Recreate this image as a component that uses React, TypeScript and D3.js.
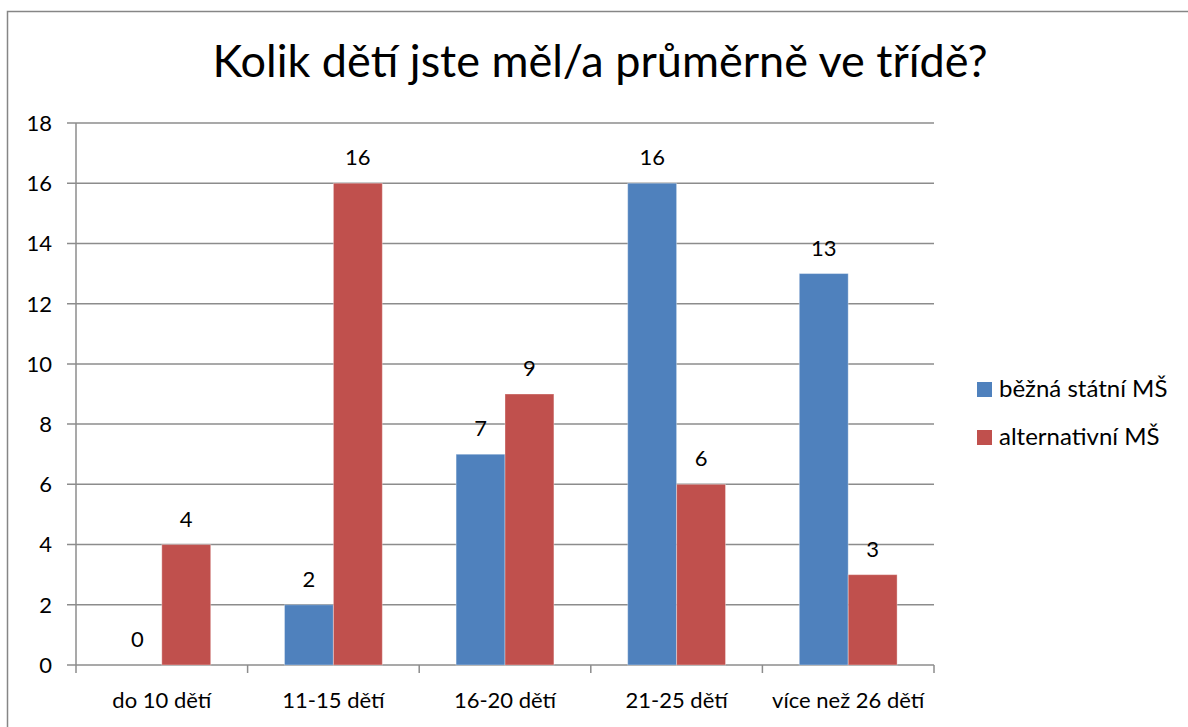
import React, { useEffect, useRef } from 'react';
import * as d3 from 'd3';

const title = 'Kolik dětí jste měl/a průměrně ve třídě?';
const categories = ['do 10 dětí', '11-15 dětí', '16-20 dětí', '21-25 dětí', 'více než 26 dětí'];
const seriesNames = ['běžná státní MŠ', 'alternativní MŠ'];
const bezna = [0, 2, 7, 16, 13];
const alternativni = [4, 16, 9, 6, 3];
const yTicks = [0, 2, 4, 6, 8, 10, 12, 14, 16, 18];
const colors = ['#4F81BD', '#C0504D'];

const FONT = 'Lato, "Open Sans", sans-serif';

const App = () => {
  const chartRef = useRef<HTMLDivElement>(null);

  useEffect(() => {
    const width = 1188;
    const height = 727;
    const left = 76;
    const right = 934;
    const top = 123;
    const bottom = 665;

    d3.select(chartRef.current).select('svg').remove();

    const svg = d3
      .select(chartRef.current)
      .append('svg')
      .attr('width', width)
      .attr('height', height)
      .style('position', 'absolute')
      .style('left', '0px')
      .style('top', '0px')
      .style('font-family', FONT);

    svg.append('rect').attr('width', width).attr('height', height).attr('fill', '#fff');

    // chart frame (runs past the picture on right and bottom)
    svg
      .append('rect')
      .attr('x', 7.5)
      .attr('y', 11.5)
      .attr('width', 1300)
      .attr('height', 900)
      .attr('fill', 'none')
      .attr('stroke', '#868686')
      .attr('stroke-width', 1.5);

    svg
      .append('text')
      .attr('x', 600)
      .attr('y', 77)
      .attr('text-anchor', 'middle')
      .attr('font-size', '45px')
      .attr('fill', '#000')
      .text(title);

    const y = d3.scaleLinear().domain([0, 18]).range([bottom, top]);

    const x = d3
      .scaleBand<string>()
      .domain(categories)
      .range([left, right])
      .paddingInner(0.43)
      .paddingOuter(0.215);

    const xInner = d3.scaleBand<number>().domain([0, 1]).range([0, x.bandwidth()]);
    const step = x.step();

    // gridlines + y ticks
    const grid = svg.append('g');
    yTicks.forEach((t) => {
      grid
        .append('line')
        .attr('x1', left - 9)
        .attr('x2', right)
        .attr('y1', y(t))
        .attr('y2', y(t))
        .attr('stroke', '#8c8c8c')
        .attr('stroke-width', 1.5);
      grid
        .append('text')
        .attr('x', 52)
        .attr('y', y(t))
        .attr('dy', '0.36em')
        .attr('text-anchor', 'end')
        .attr('font-size', '22px')
        .text(t);
    });

    // axes
    svg
      .append('line')
      .attr('x1', left)
      .attr('x2', left)
      .attr('y1', top)
      .attr('y2', bottom + 8)
      .attr('stroke', '#8c8c8c')
      .attr('stroke-width', 1.5);

    categories.forEach((c) => {
      const bx = (x(c) as number) - step * 0.215;
      svg
        .append('line')
        .attr('x1', bx + step)
        .attr('x2', bx + step)
        .attr('y1', bottom)
        .attr('y2', bottom + 8)
        .attr('stroke', '#8c8c8c')
        .attr('stroke-width', 1.5);
      svg
        .append('text')
        .attr('x', bx + step / 2)
        .attr('y', 708)
        .attr('text-anchor', 'middle')
        .attr('font-size', '22px')
        .text(c);
    });

    // bars
    const series = [bezna, alternativni];
    series.forEach((vals, s) => {
      const g = svg.append('g');
      categories.forEach((c, i) => {
        const bx = (x(c) as number) + (xInner(s) as number);
        const v = vals[i];
        g.append('rect')
          .attr('x', bx)
          .attr('y', y(v))
          .attr('width', xInner.bandwidth())
          .attr('height', y(0) - y(v))
          .attr('fill', colors[s])
          .attr('stroke', 'rgba(255,255,255,0.35)')
          .attr('stroke-width', 1);
        g.append('text')
          .attr('x', bx + xInner.bandwidth() / 2)
          .attr('y', y(v) - 18)
          .attr('text-anchor', 'middle')
          .attr('font-size', '22px')
          .text(v);
      });
    });

    // legend
    seriesNames.forEach((name, s) => {
      const ly = 382 + s * 48;
      svg
        .append('rect')
        .attr('x', 977)
        .attr('y', ly)
        .attr('width', 15)
        .attr('height', 15)
        .attr('fill', colors[s]);
      svg
        .append('text')
        .attr('x', 999)
        .attr('y', ly + 15)
        .attr('font-size', '24px')
        .text(name);
    });
  }, []);

  return <div ref={chartRef}></div>;
};

export default App;
